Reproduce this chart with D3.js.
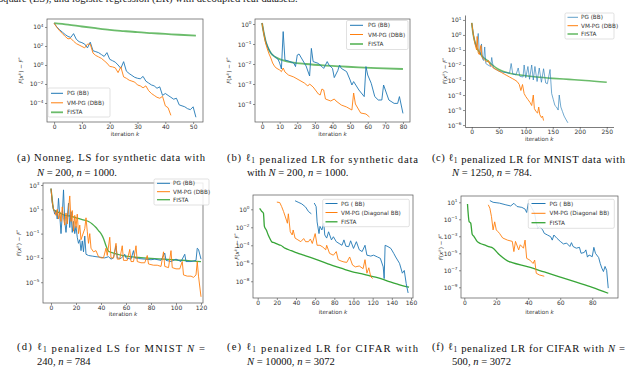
<!DOCTYPE html>
<html>
<head>
<meta charset="utf-8">
<script src="https://cdn.jsdelivr.net/npm/d3@7"></script>
<style>
  body { margin: 0; background: #fff; }
  svg { display: block; }
</style>
</head>
<body>
<svg id="fig" width="640" height="369"></svg>
<script>
// All y values are log10(F(x^k) - F*). Pairs are [k, log10 value].

// (a) Nonneg. LS, synthetic
const aBlue = [[0,4.4],[1,4.0],[2,3.7],[3,3.45],[4,3.2],[5,3.0],[6,2.9],[7,3.3],[8,2.7],[9,2.45],[10,2.35],[11,2.2],[12,1.8],[13,2.4],[14,1.5],[15,1.4],[16,1.3],[17,1.1],[18,0.9],[19,1.3],[20,0.6],[21,0.45],[22,0.3],[23,0.0],[24,-0.35],[25,0.35],[26,-0.65],[27,-0.9],[28,-1.1],[29,-1.3],[30,-1.4],[31,-1.45],[32,-1.2],[33,-1.7],[34,-1.9],[35,-2.1],[36,-2.2],[37,-2.45],[38,-2.3],[39,-3.2],[40,-3.0],[41,-3.2],[42,-3.4],[43,-3.6],[44,-3.5],[45,-4.2],[46,-4.3],[47,-4.4],[48,-4.6],[49,-4.7],[50,-4.4],[51,-5.5]];
const aOrange = [[0,4.4],[1,3.95],[2,3.6],[3,3.3],[4,3.0],[5,2.75],[6,2.8],[7,2.5],[8,2.25],[9,2.1],[10,1.95],[11,1.8],[12,2.2],[13,2.2],[14,1.25],[15,1.0],[16,0.85],[17,0.7],[18,0.45],[19,0.2],[20,-0.15],[21,-0.2],[22,-0.3],[23,-0.8],[24,-0.2],[25,-1.25],[26,-1.4],[27,-1.6],[28,-1.7],[29,-1.8],[30,-2.1],[31,-2.2],[32,-2.4],[33,-2.2],[34,-2.7],[35,-3.0],[36,-3.2],[37,-3.4],[38,-3.5],[39,-3.3],[40,-4.3],[41,-4.5],[42,-5.3]];
const aGreen = [[0,4.4],[5,4.25],[10,4.05],[15,3.87],[20,3.7],[25,3.57],[30,3.45],[35,3.36],[40,3.27],[45,3.18],[51,3.1]];

// (b) l1 LR, synthetic
const bBlue = [[0,0.05],[1,-0.45],[2,-0.85],[3,-1.1],[4,-1.3],[5,-1.45],[7,-1.62],[9,-1.75],[10,-1.95],[11,-2.25],[12,-0.38],[13,-1.8],[15,-1.85],[18,-1.95],[19,-2.13],[20,-1.55],[21,-1.5],[23,-1.8],[25,-2.1],[27,-2.6],[28,-1.22],[29,-1.88],[32,-1.97],[34,-2.13],[35,-2.22],[37,-1.88],[38,-2.05],[40,-2.22],[41,-2.68],[43,-2.33],[44,-2.05],[45,-2.22],[48,-2.38],[50,-2.8],[51,-3.05],[52,-2.88],[55,-3.3],[58,-3.63],[59,-2.13],[60,-2.55],[62,-2.97],[64,-3.63],[66,-3.8],[68,-3.8],[69,-3.05],[70,-3.3],[72,-3.8],[75,-3.97],[77,-3.97],[78,-3.63],[80,-4.47]];
const bOrange = [[0,0.05],[1,-0.5],[2,-0.95],[3,-1.25],[4,-1.5],[5,-1.7],[6,-1.95],[7,-2.1],[8,-2.2],[10,-2.3],[11,-2.38],[12,-2.2],[13,-2.4],[15,-2.55],[18,-2.65],[21,-2.8],[24,-2.95],[26,-3.1],[27,-3.0],[29,-3.15],[32,-3.5],[33,-3.55],[34,-3.25],[35,-3.3],[36,-3.75],[39,-3.85],[41,-3.75],[42,-3.85],[45,-4.05],[48,-4.15],[51,-4.3],[52,-3.45],[53,-4.0],[56,-4.45],[59,-4.5],[61,-4.65]];
const bGreen = [[0,0.05],[1,-0.45],[2,-0.85],[3,-1.1],[4,-1.3],[5,-1.45],[7,-1.62],[9,-1.72],[12,-1.82],[17,-1.92],[25,-2.0],[35,-2.07],[45,-2.12],[55,-2.17],[65,-2.21],[80,-2.25]];

// (c) l1 LR, MNIST
const cBlue = [[0,0.8],[3,0.0],[6,-0.5],[9,-0.8],[12,0.1],[14,-1.1],[16,-1.3],[18,-0.6],[20,-1.6],[22,-1.7],[24,-0.8],[26,-1.9],[30,-2.0],[35,-2.1],[37,-1.5],[40,-2.2],[45,-2.3],[50,-2.4],[55,-2.45],[60,-2.5],[65,-2.5],[70,-2.55],[73,-1.9],[76,-2.6],[82,-2.65],[86,-2.2],[89,-2.75],[95,-2.8],[97,-2.0],[100,-2.85],[104,-2.1],[107,-2.95],[111,-2.0],[114,-3.0],[117,-2.1],[121,-3.1],[125,-2.2],[129,-3.15],[133,-2.25],[137,-3.2],[140,-3.25],[145,-2.3],[148,-3.9],[151,-4.3],[154,-4.7],[157,-4.8],[160,-5.0],[162,-4.0],[165,-4.8],[168,-5.1],[171,-5.4],[174,-5.6],[178,-5.85]];
const cOrange = [[0,0.8],[3,0.0],[6,-0.6],[9,-1.0],[10,-0.1],[12,-1.2],[14,-1.3],[17,-0.7],[19,-1.5],[22,-1.6],[25,-1.7],[28,-1.8],[31,-1.7],[34,-2.0],[38,-2.1],[40,-2.2],[45,-2.3],[50,-2.4],[55,-2.5],[60,-2.6],[65,-2.7],[70,-2.8],[75,-2.9],[80,-3.0],[84,-3.1],[88,-3.3],[91,-3.7],[94,-3.3],[97,-3.9],[100,-4.1],[104,-4.3],[108,-4.5],[111,-4.7],[114,-4.0],[116,-4.9],[119,-5.1],[122,-5.2],[124,-4.8],[126,-5.3],[129,-5.5],[131,-5.4],[133,-5.7]];
const cGreen = [[0,0.8],[2,0.2],[4,-0.2],[7,-0.6],[10,-0.9],[15,-1.2],[20,-1.45],[28,-1.67],[35,-1.9],[50,-2.3],[70,-2.55],[90,-2.67],[120,-2.8],[150,-2.89],[180,-2.96],[210,-3.03],[250,-3.15]];

// (d) l1 LS, MNIST
const dBlue = [[0,2.7],[1,1.5],[2,1.0],[3,0.6],[4,0.9],[5,0.2],[6,1.9],[7,0.5],[8,-1.0],[9,0.5],[10,2.6],[11,0.0],[12,-0.9],[13,0.3],[14,1.5],[15,-0.5],[16,0.8],[17,-0.9],[18,0.0],[19,-1.0],[20,-0.4],[21,-1.3],[22,-1.8],[23,-1.5],[24,-2.4],[25,-1.6],[26,-2.5],[27,-1.2],[28,-2.7],[30,-2.8],[33,-2.85],[36,-2.9],[40,-2.95],[43,-3.0],[46,-2.9],[48,-3.1],[50,-3.0],[52,-2.0],[53,-3.0],[56,-3.05],[59,-2.7],[60,-3.0],[64,-3.1],[66,-2.4],[67,-3.0],[70,-3.05],[75,-3.1],[80,-3.15],[83,-3.1],[88,-3.2],[91,-2.6],[92,-3.2],[96,-3.3],[100,-3.1],[104,-3.3],[107,-2.7],[108,-3.3],[112,-3.3],[116,-3.2],[117,-2.2],[118,-2.3],[120,-3.1]];
const dOrange = [[0,2.7],[1,1.6],[2,1.0],[3,0.8],[4,0.5],[5,1.0],[6,0.2],[7,0.8],[8,0.0],[9,1.2],[10,0.3],[11,-0.3],[12,0.7],[13,-0.2],[14,1.0],[15,2.1],[16,0.0],[17,0.9],[18,-0.8],[19,0.5],[20,-0.5],[21,0.6],[22,-1.0],[23,-0.3],[24,-1.5],[25,-1.2],[27,-0.6],[28,0.3],[29,-0.8],[30,-1.8],[31,-1.0],[32,-2.2],[34,-2.5],[36,-2.4],[38,-2.9],[40,-3.0],[42,-3.0],[44,-2.2],[45,-2.8],[47,-1.3],[48,-3.0],[50,-3.0],[52,-1.8],[53,-3.1],[55,-3.1],[57,-2.0],[58,-3.2],[61,-3.2],[63,-2.3],[64,-3.3],[66,-3.3],[68,-2.0],[69,-3.3],[72,-3.4],[75,-3.4],[77,-2.8],[78,-3.5],[82,-3.6],[85,-3.6],[88,-3.7],[90,-2.5],[91,-3.7],[94,-3.8],[96,-2.4],[97,-3.8],[100,-3.9],[103,-3.9],[105,-3.3],[106,-4.4],[109,-4.5],[112,-4.5],[114,-4.6],[116,-4.4],[117,-3.3],[118,-4.5],[120,-6.2]];
const dGreen = [[0,2.7],[1,1.8],[2,1.0],[4,0.85],[7,0.7],[10,0.55],[15,0.45],[20,0.3],[25,0.15],[30,0.0],[33,-0.2],[36,-0.5],[38,-0.75],[40,-1.0],[42,-1.4],[44,-2.0],[46,-2.45],[50,-2.6],[60,-2.85],[70,-2.95],[80,-3.03],[90,-3.1],[100,-3.17],[110,-3.22],[120,-3.3]];

// (e) l1 LR, CIFAR N=10000 (null marks the break in the PG line)
const eBlue = [[39,0.95],[43,0.75],[46,0.6],[50,0.25],[53,-0.25],[56,-0.5],[57,null],[59,0.7],[61,0.3],[62,-1.4],[64,-2.7],[65,-1.9],[67,-2.3],[69,-1.55],[70,-2.85],[72,-3.2],[74,-2.5],[77,-3.4],[79,-3.05],[82,-3.6],[85,-3.8],[88,-4.0],[90,-3.4],[92,-4.1],[95,-4.15],[97,-3.5],[100,-4.35],[103,-3.6],[106,-4.5],[109,-4.7],[112,-4.0],[114,-5.1],[118,-5.2],[121,-5.1],[125,-5.3],[128,-5.45],[131,-6.4],[132,-7.7],[133,-4.0],[136,-4.15],[139,-4.35],[142,-4.9],[144,-5.3],[148,-6.0],[151,-7.1],[153,-6.8],[155,-8.25],[157,-9.3]];
const eOrange = [[20,0.8],[23,0.75],[25,0.3],[27,-0.25],[30,-1.2],[31,-1.55],[32,-0.5],[34,-2.5],[36,-2.85],[37,-2.3],[39,-3.2],[42,-3.4],[45,-3.6],[48,-3.25],[50,-3.6],[53,-3.6],[55,-3.3],[57,-3.8],[60,-2.7],[62,-4.0],[65,-4.0],[68,-4.2],[71,-4.5],[72,-4.0],[75,-4.9],[79,-5.1],[82,-4.7],[84,-5.6],[87,-5.75],[90,-5.85],[93,-5.9],[96,-5.3],[99,-6.2],[102,-6.4],[106,-6.3],[110,-6.6],[112,-5.6],[114,-7.1],[116,-6.5],[118,-7.5],[120,-7.7]];
const eGreen = [[2,0.1],[4,-0.2],[6,-0.45],[7,-1.9],[9,-2.3],[11,-2.85],[13,-3.3],[15,-3.65],[17,-3.7],[20,-3.85],[24,-4.0],[29,-4.35],[35,-4.6],[41,-4.85],[48,-5.1],[55,-5.35],[63,-5.65],[72,-6.0],[81,-6.35],[90,-6.65],[99,-6.95],[108,-7.15],[117,-7.4],[125,-7.6],[135,-7.95],[145,-8.3],[155,-8.6],[158,-8.65]];

// (f) l1 LR, CIFAR N=500
const fBlue = [[16,1.2],[18,1.0],[22,0.9],[26,0.7],[29,0.57],[31,0.88],[33,0.5],[36,0.4],[38,0.2],[39,-0.2],[40,0.88],[41,0.75],[42,0.4],[44,-0.3],[45,-1.45],[46,-2.05],[47,-1.85],[49,-2.25],[50,-2.65],[52,-2.85],[54,-3.05],[55,-3.45],[56,-2.85],[58,-3.25],[60,-3.6],[62,-3.9],[64,-3.8],[66,-4.2],[67,-3.75],[68,-4.2],[70,-4.4],[72,-4.3],[73,-5.0],[75,-4.9],[76,-4.6],[77,-5.45],[78,-5.2],[80,-5.4],[81,-4.3],[82,-5.0],[84,-5.5],[85,-6.2],[86,-6.75],[87,-7.15],[88,-6.55],[89,-7.0],[90,-9.1]];
const fOrange = [[15,0.7],[16,0.3],[17,-0.7],[18,-2.25],[19,-1.3],[20,-2.25],[21,-2.45],[22,-2.65],[24,-3.2],[27,-3.45],[30,-3.6],[31,-4.8],[32,-3.6],[34,-4.6],[35,-4.0],[37,-4.4],[38,-3.45],[39,-5.6],[41,-5.8],[43,-6.2],[44,-5.8],[45,-7.35],[47,-7.55],[50,-7.7]];
const fGreen = [[2,0.8],[3,-1.25],[4,-1.45],[5,-2.8],[6,-3.0],[8,-3.6],[10,-3.85],[13,-4.05],[16,-4.25],[18,-4.4],[21,-5.0],[24,-5.5],[27,-5.9],[30,-6.1],[40,-6.6],[50,-7.2],[60,-7.8],[70,-8.4],[80,-9.0],[90,-9.7]];

// tick labels
const aTicksX = [0, 10, 20, 30, 40, 50],        aTicksY = [4, 2, 0, -2, -4];
const bTicksX = [0, 10, 20, 30, 40, 50, 60, 70, 80], bTicksY = [0, -1, -2, -3, -4];
const cTicksX = [0, 50, 100, 150, 200, 250],    cTicksY = [1, 0, -1, -2, -3, -4, -5, -6];
const dTicksX = [0, 20, 40, 60, 80, 100, 120],  dTicksY = [3, 1, -1, -3, -5];
const eTicksX = [0, 20, 40, 60, 80, 100, 120, 140, 160], eTicksY = [0, -2, -4, -6, -8];
const fTicksX = [0, 20, 40, 60, 80],            fTicksY = [1, -1, -3, -5, -7, -9];

const legendBB = ["PG (BB)", "VM-PG (DBB)", "FISTA"];
const legendDiag = ["PG ( BB)", "VM-PG (Diagonal BB)", "FISTA"];

const BLUE = "#1f77b4", ORANGE = "#ff7f0e", GREEN = "#2ca02c";

const svg = d3.select("#fig");

const panels = [
  { x0: 47, x1: 203, y0: 19, y1: 122, xDom: [-2.55, 53.55], yDom: [4.84, -6.0],
    xt: aTicksX, yt: aTicksY, box: true, data: [aBlue, aOrange, aGreen], greenW: 1.8, greenOp: 0.7,
    leg: { x: 48, y: 88, w: 62, h: 29, rows: [93.3, 102.8, 112.3], l0: 51, l1: 63, tx: 67, labels: legendBB },
    ylab: 23, xlab: 136 },
  { x0: 255, x1: 410, y0: 19, y1: 122, xDom: [-4, 84], yDom: [0.25, -4.9],
    xt: bTicksX, yt: bTicksY, box: true, data: [bBlue, bOrange, bGreen], greenW: 1.8, greenOp: 0.7,
    leg: { x: 346.5, y: 20.5, w: 61.5, h: 29, rows: [25.3, 34.5, 44], l0: 350, l1: 363, tx: 368, labels: legendBB },
    ylab: 231, xlab: 136 },
  { x0: 465, x1: 613.5, y0: 15, y1: 127, xDom: [-12.5, 262.5], yDom: [1.33, -6.13],
    xt: cTicksX, yt: cTicksY, box: false, data: [cBlue, cOrange, cGreen], greenW: 1.6, greenOp: 0.7, blueOp: 0.7,
    leg: { x: 565, y: 13, w: 49, h: 26, rows: [17.3, 25.7, 34], l0: 567.5, l1: 578, tx: 581, labels: legendBB },
    ylab: 447, xlab: 141 },
  { x0: 43, x1: 203, y0: 183, y1: 303, xDom: [-6.4, 121.6], yDom: [3.165, -6.71],
    xt: dTicksX, yt: dTicksY, box: true, data: [dBlue, dOrange, dGreen], greenW: 1.3, greenOp: 0.85,
    leg: { x: 154, y: 179, w: 55, h: 26, rows: [183.3, 191.7, 199.7], l0: 157, l1: 170, tx: 173, labels: legendBB },
    ylab: 21, xlab: 316 },
  { x0: 253, x1: 413, y0: 195, y1: 298, xDom: [-4.9, 162.1], yDom: [1.59, -9.86],
    xt: eTicksX, yt: eTicksY, box: true, data: [eBlue, eOrange, eGreen], greenW: 1.3, greenOp: 0.95,
    leg: { x: 322.7, y: 199.3, w: 86.6, h: 27.4, rows: [203.5, 212.5, 221.8], l0: 325.5, l1: 337.5, tx: 341, labels: legendDiag },
    ylab: 239, xlab: 313.5 },
  { x0: 461, x1: 618, y0: 196, y1: 298, xDom: [-2.06, 96.1], yDom: [1.74, -10.26],
    xt: fTicksX, yt: fTicksY, box: true, data: [fBlue, fOrange, fGreen], greenW: 1.3, greenOp: 0.95,
    leg: { x: 528.3, y: 199.3, w: 86, h: 29, rows: [203.5, 213.3, 222.7], l0: 531.5, l1: 545.5, tx: 549.5, labels: legendDiag },
    ylab: 443, xlab: 314 }
];

const FONT = "DejaVu Sans";

function expText(e) { return e < 0 ? "\u2212" + Math.abs(e) : String(e); }

panels.forEach(p => {
  const g = svg.append("g");
  const x = d3.scaleLinear().domain(p.xDom).range([p.x0, p.x1]);
  const y = d3.scaleLog().domain([Math.pow(10, p.yDom[0]), Math.pow(10, p.yDom[1])]).range([p.y0, p.y1]);

  const clipId = "clip" + p.x0 + "_" + p.y0;
  g.append("clipPath").attr("id", clipId).append("rect")
    .attr("x", p.x0).attr("y", p.y0).attr("width", p.x1 - p.x0).attr("height", p.y1 - p.y0);

  // axes
  const xa = g.append("g").attr("transform", `translate(0,${p.y1})`)
    .call(d3.axisBottom(x).tickValues(p.xt).tickSize(2).tickPadding(1.2).tickSizeOuter(0));
  const ya = g.append("g").attr("transform", `translate(${p.x0},0)`)
    .call(d3.axisLeft(y).tickValues(p.yt.map(e => Math.pow(10, e))).tickSize(2).tickSizeOuter(0).tickFormat(""));
  [xa, ya].forEach(a => {
    a.attr("font-family", null).attr("font-size", null);
    a.selectAll(".tick line").attr("stroke", "#444").attr("stroke-width", 0.6);
    a.select(".domain").attr("stroke", "#444").attr("stroke-width", 0.7);
  });
  xa.selectAll(".tick text").attr("font-family", FONT).attr("font-size", 6).attr("fill", "#333");
  ya.selectAll(".tick text").remove();
  ya.selectAll(".tick").each(function(d) {
    const e = Math.round(Math.log10(d));
    const t = d3.select(this).append("text")
      .attr("x", -3.5).attr("y", 2).attr("text-anchor", "end")
      .attr("font-family", FONT).attr("font-size", 6).attr("fill", "#333");
    t.append("tspan").text("10");
    t.append("tspan").attr("dy", -2.8).attr("font-size", 4.2).text(expText(e));
  });

  if (p.box) {
    xa.select(".domain").remove();
    ya.select(".domain").remove();
    g.append("rect").attr("x", p.x0).attr("y", p.y0)
      .attr("width", p.x1 - p.x0).attr("height", p.y1 - p.y0)
      .attr("fill", "none").attr("stroke", "#555").attr("stroke-width", 0.7);
  }

  // series lines
  const line = d3.line().defined(d => d[1] !== null)
    .x(d => x(d[0])).y(d => y(Math.pow(10, d[1])));
  const smooth = d3.line().curve(d3.curveMonotoneX)
    .x(d => x(d[0])).y(d => y(Math.pow(10, d[1])));
  const lines = g.append("g").attr("clip-path", `url(#${clipId})`);
  lines.append("path").attr("d", smooth(p.data[2])).attr("fill", "none")
    .attr("stroke", GREEN).attr("stroke-width", p.greenW).attr("stroke-opacity", p.greenOp);
  lines.append("path").attr("d", line(p.data[0])).attr("fill", "none")
    .attr("stroke", BLUE).attr("stroke-width", 0.9).attr("stroke-opacity", p.blueOp || 1);
  lines.append("path").attr("d", line(p.data[1])).attr("fill", "none")
    .attr("stroke", ORANGE).attr("stroke-width", 0.9);

  // axis labels
  const xl = g.append("text").attr("x", (p.x0 + p.x1) / 2).attr("y", p.xlab)
    .attr("text-anchor", "middle").attr("font-family", FONT).attr("font-size", 5.6).attr("fill", "#333");
  xl.append("tspan").text("iteration ");
  xl.append("tspan").attr("font-style", "italic").text("k");

  const yl = g.append("text")
    .attr("transform", `translate(${p.ylab},${(p.y0 + p.y1) / 2}) rotate(-90)`)
    .attr("text-anchor", "middle").attr("font-family", FONT).attr("font-size", 5.6).attr("fill", "#333");
  yl.append("tspan").attr("font-style", "italic").text("F");
  yl.append("tspan").text("(");
  yl.append("tspan").attr("font-style", "italic").text("x");
  yl.append("tspan").attr("dy", -2.2).attr("font-size", 4).attr("font-style", "italic").text("k");
  yl.append("tspan").attr("dy", 2.2).text(") \u2212 ");
  yl.append("tspan").attr("font-style", "italic").text("F");
  yl.append("tspan").attr("dy", -2.2).attr("font-size", 4).text("*");

  // legend
  const L = p.leg;
  const lg = g.append("g");
  lg.append("rect").attr("x", L.x).attr("y", L.y).attr("width", L.w).attr("height", L.h)
    .attr("rx", 1.5).attr("fill", "#fff").attr("fill-opacity", 0.85)
    .attr("stroke", "#ccc").attr("stroke-width", 0.6);
  const legColors = [BLUE, ORANGE, GREEN];
  L.labels.forEach((lab, i) => {
    lg.append("line").attr("x1", L.l0).attr("x2", L.l1).attr("y1", L.rows[i]).attr("y2", L.rows[i])
      .attr("stroke", legColors[i])
      .attr("stroke-width", i === 2 ? p.greenW : 1)
      .attr("stroke-opacity", i === 2 ? p.greenOp : (i === 0 ? (p.blueOp || 1) : 1));
    lg.append("text").attr("x", L.tx).attr("y", L.rows[i] + 2)
      .attr("font-family", FONT).attr("font-size", 5.7).attr("fill", "#333").text(lab);
  });
});

// captions
const SERIF = "Liberation Serif";
const captions = [
  { x: 17, w: 188, y: 160.5, l1: [["(a) Nonneg. LS for synthetic data with"]],
    l2: [["N", "i"], [" = 200, "], ["n", "i"], [" = 1000."]] },
  { x: 227, w: 191, y: 160.5, l1: [["(b) "], ["\u2113"], ["1", "sub"], [" penalized LR for synthetic data"]],
    l2: [["with "], ["N", "i"], [" = 200, "], ["n", "i"], [" = 1000."]] },
  { x: 432, w: 193, y: 160.5, l1: [["(c) "], ["\u2113"], ["1", "sub"], [" penalized LR for MNIST data with"]],
    l2: [["N", "i"], [" = 1250, "], ["n", "i"], [" = 784."]] },
  { x: 17, w: 188, y: 349.5, l1: [["(d) "], ["\u2113"], ["1", "sub"], [" penalized LS for MNIST "], ["N", "i"], [" ="]],
    l2: [["240, "], ["n", "i"], [" = 784"]] },
  { x: 227, w: 191, y: 349.5, l1: [["(e) "], ["\u2113"], ["1", "sub"], [" penalized LR for CIFAR with"]],
    l2: [["N", "i"], [" = 10000, "], ["n", "i"], [" = 3072"]] },
  { x: 432, w: 193, y: 349.5, l1: [["(f) "], ["\u2113"], ["1", "sub"], [" penalized LR for CIFAR with "], ["N", "i"], [" ="]],
    l2: [["500, "], ["n", "i"], [" = 3072"]] }
];

function addRuns(t, runs) {
  runs.forEach(r => {
    const s = t.append("tspan").text(r[0]);
    if (r[1] === "i") s.attr("font-style", "italic");
    if (r[1] === "sub") {
      s.attr("font-size", 7.5).attr("dy", 2.5);
      t.append("tspan").attr("dy", -2.5).text("");
    }
  });
}

captions.forEach(c => {
  const t1 = svg.append("text").attr("x", c.x).attr("y", c.y)
    .attr("font-family", SERIF).attr("font-size", 10.6).attr("fill", "#111")
    .attr("textLength", c.w).attr("lengthAdjust", "spacing");
  addRuns(t1, c.l1);
  const t2 = svg.append("text").attr("x", c.x + 20).attr("y", c.y + 15)
    .attr("font-family", SERIF).attr("font-size", 10.6).attr("fill", "#111");
  addRuns(t2, c.l2);
});

// partially visible running text at the very top
svg.append("text").attr("x", -1).attr("y", 1.5)
  .attr("font-family", SERIF).attr("font-size", 10.6).attr("fill", "#222")
  .text("square (LS), and logistic regression (LR) with decoupled real datasets.");
</script>
</body>
</html>
